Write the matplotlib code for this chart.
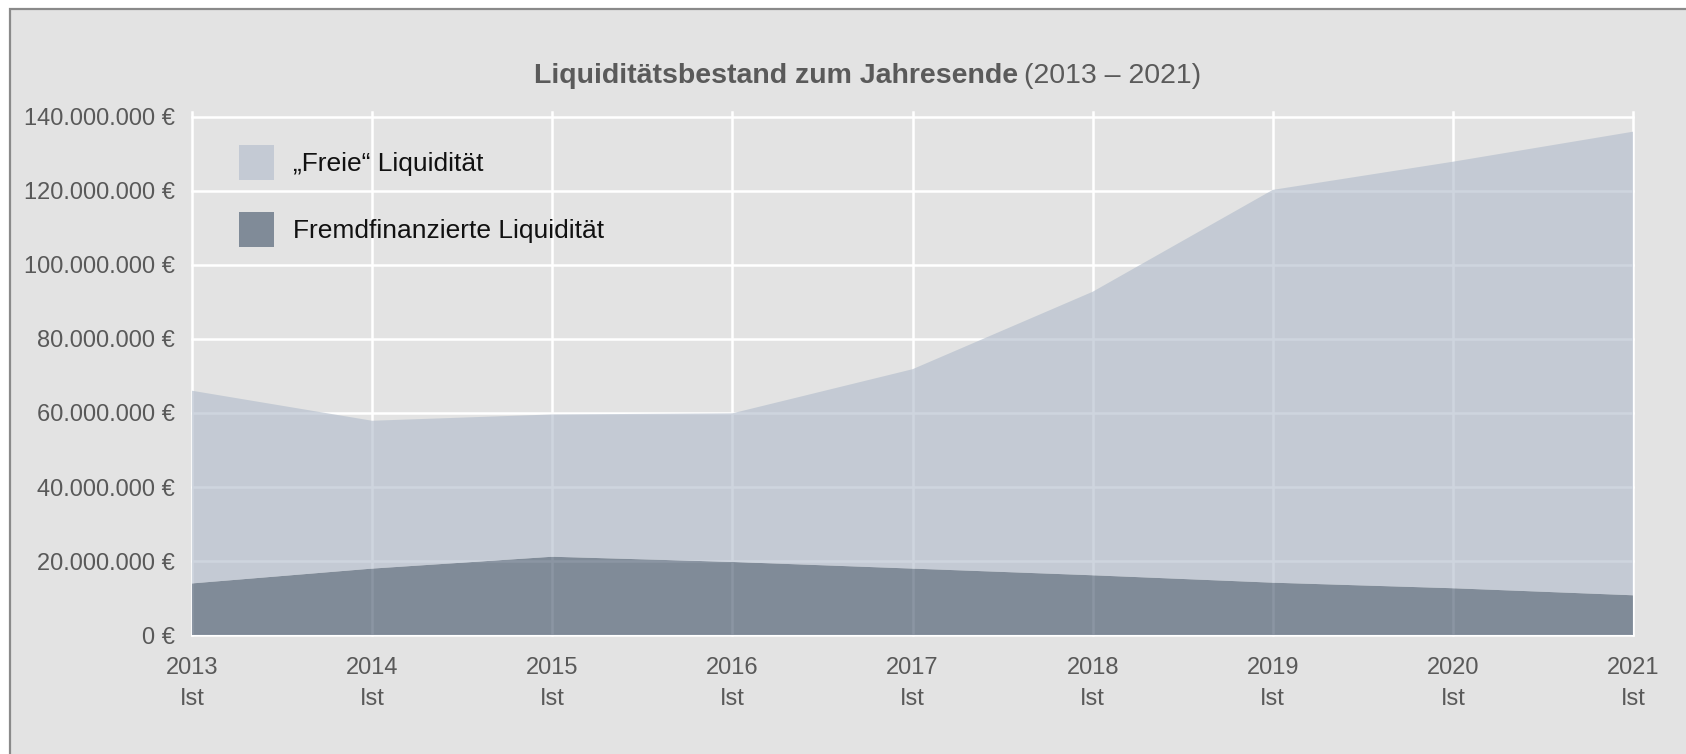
import numpy as np
import matplotlib
matplotlib.use("Agg")
from matplotlib import pyplot as plt
from matplotlib import font_manager
from matplotlib.patches import Patch, Rectangle
from matplotlib.ticker import FuncFormatter, MultipleLocator

years = [2013, 2014, 2015, 2016, 2017, 2018, 2019, 2020, 2021]
year_labels = [f"{y}\nIst" for y in years]
# Mio. EUR
fremd = [14.0, 18.0, 21.2, 19.8, 18.0, 16.2, 14.2, 12.7, 10.8]
freie = [52.0, 39.9, 38.4, 40.1, 53.8, 76.5, 106.0, 115.1, 125.1]
series_names = ["„Freie“ Liquidität", "Fremdfinanzierte Liquidität"]

names = {f.name for f in font_manager.fontManager.ttflist}
font = "Liberation Sans Narrow" if "Liberation Sans Narrow" in names else "Liberation Sans"
plt.rcParams["font.family"] = [font, "DejaVu Sans"]

BG = "#e3e3e3"
ALPHA = 0.62
c_freie = "#b1bccb"
c_fremd = "#44556b"

fig = plt.figure(figsize=(16.86, 7.54), dpi=100)
fig.patch.set_facecolor("white")
fig.patches.append(Rectangle((10 / 1686, -0.1), 1.2, (754 - 9) / 754 + 0.1,
                             transform=fig.transFigure, facecolor=BG,
                             edgecolor="#8a8a8a", linewidth=1.6, zorder=-10))

ax = fig.add_axes([192 / 1686, 1 - 635.3 / 754, (1633 - 192) / 1686, (635.3 - 111.7) / 754])
ax.set_facecolor(BG)

x = np.array(years)
y_fremd = np.array(fremd) * 1e6
y_freie = np.array(freie) * 1e6
ax.stackplot(x, y_fremd, y_freie, colors=[c_fremd, c_freie], alpha=ALPHA,
             linewidth=0, zorder=2)

ax.set_xlim(2013, 2021)
ax.set_ylim(0, 141.3e6)
ax.yaxis.set_major_locator(MultipleLocator(20e6))
ax.set_xticks(years)
ax.set_xticklabels(year_labels, linespacing=1.52)
ax.yaxis.set_major_formatter(FuncFormatter(lambda v, p: f"{v:,.0f}".replace(",", ".") + " €"))

ax.grid(True, color="white", linewidth=1.8, zorder=1)
ax.set_axisbelow(True)
for gl in ax.get_xgridlines() + ax.get_ygridlines():
    gl.set_clip_on(False)
for s in ax.spines.values():
    s.set_visible(False)
ax.axhline(0, color="#d2d2d2", linewidth=2.5, zorder=0.5)

ax.tick_params(axis="both", length=0, labelsize=17, labelcolor="#595959")
ax.tick_params(axis="x", pad=15.5)
ax.tick_params(axis="y", pad=12)

handles = [Patch(facecolor=c_freie, alpha=ALPHA, linewidth=0),
           Patch(facecolor=c_fremd, alpha=ALPHA, linewidth=0)]
ax.legend(handles, series_names, loc="upper left",
          bbox_to_anchor=(239 / 1686, 1 - 145 / 754), bbox_transform=fig.transFigure,
          frameon=False, fontsize=19, handlelength=1.32, handleheight=1.65,
          handletextpad=0.74, labelspacing=1.22, borderpad=0, borderaxespad=0,
          labelcolor="#111111")

t1 = fig.text(534 / 1686, 1 - 83 / 754, "Liquiditätsbestand zum Jahresende",
              fontsize=20.5, fontweight="bold", color="#5a5a5a", ha="left", va="baseline")
fig.canvas.draw()
bb = t1.get_window_extent()
fig.text((bb.x1 + 6) / 1686, 1 - 83 / 754, "(2013 – 2021)",
         fontsize=20.5, color="#5a5a5a", ha="left", va="baseline")

fig.savefig("out.png", dpi=100, facecolor=fig.get_facecolor())
